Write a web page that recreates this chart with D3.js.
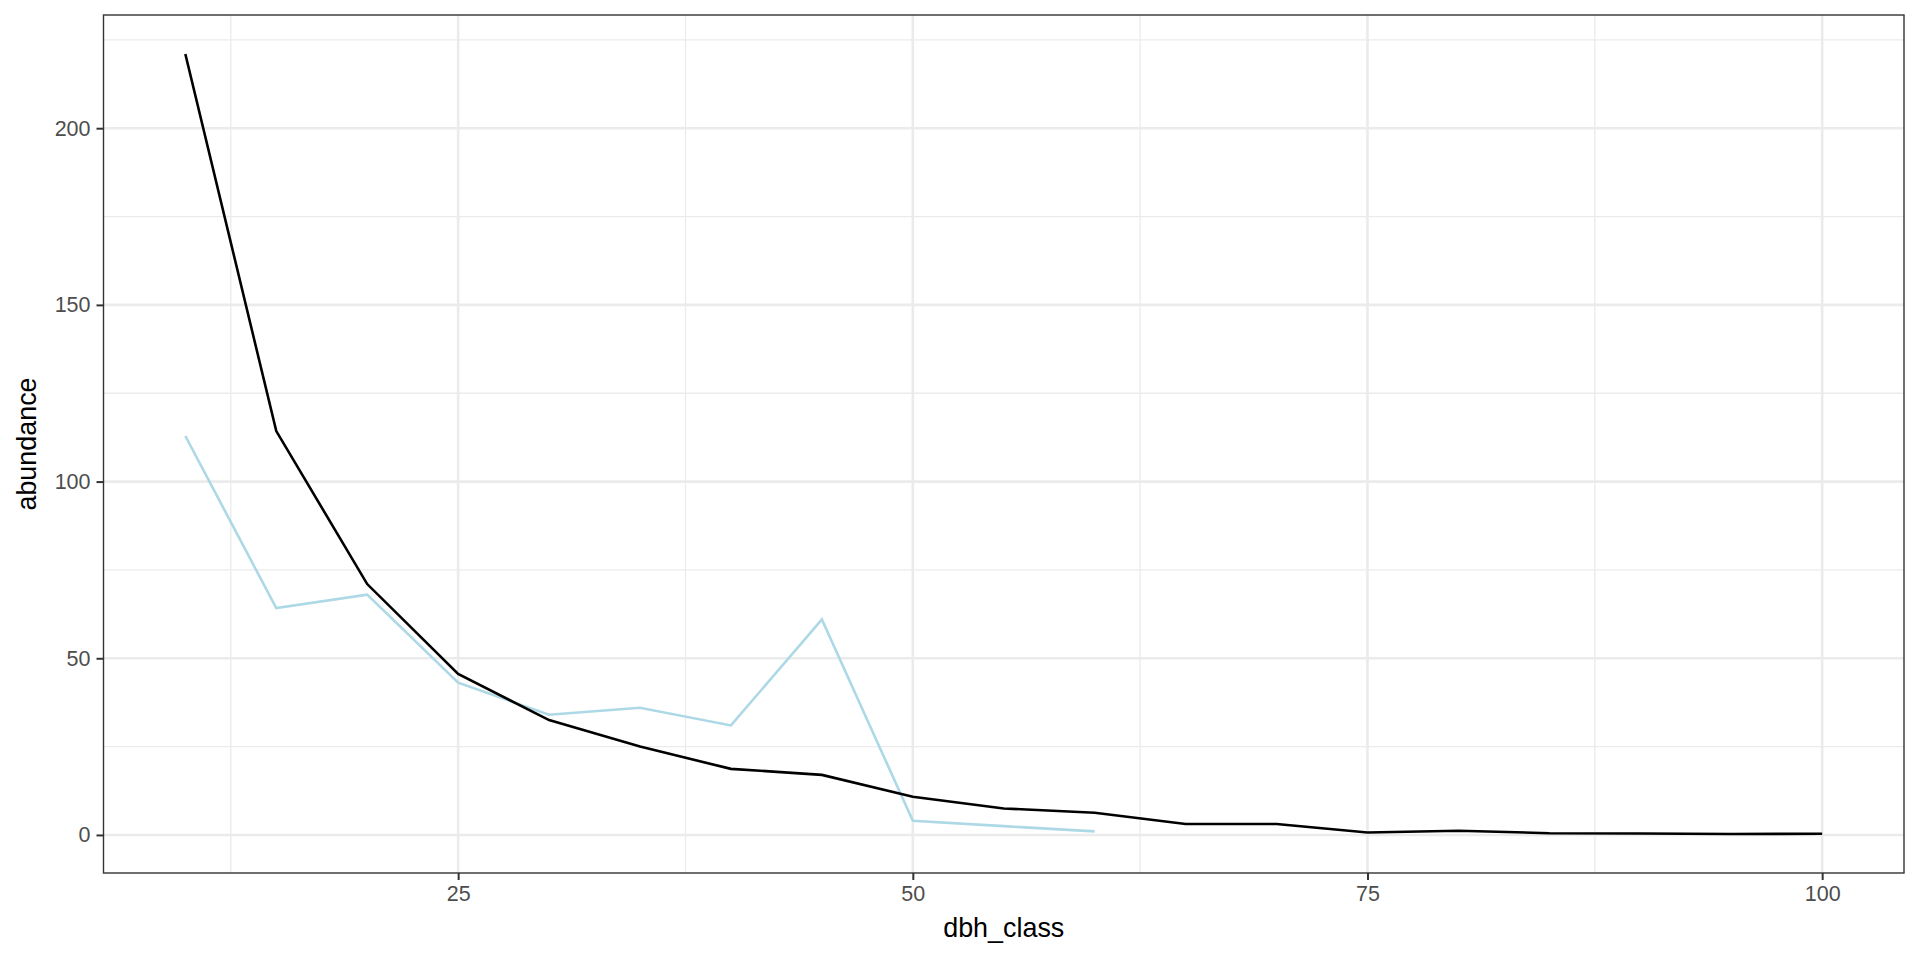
<!DOCTYPE html>
<html>
<head>
<meta charset="utf-8">
<script src="https://cdn.jsdelivr.net/npm/d3@7"></script>
<style>
  body { margin: 0; background: white; }
  svg text { font-family: "Liberation Sans", Arial, sans-serif; }
</style>
</head>
<body>
<svg id="chart" width="1920" height="960"></svg>
<script>
// dbh classes (cm) and abundance per class
let dbh_all = [10, 15, 20, 25, 30, 35, 40, 45, 50, 55, 60, 65, 70, 75, 80, 85, 90, 95, 100];
let abundance_all = [221, 114.3, 71, 45.6, 32.5, 25, 18.7, 17, 10.8, 7.5, 6.3, 3.1, 3.1, 0.7, 1.2, 0.5, 0.4, 0.27, 0.36];

let dbh_sub = [10, 15, 20, 25, 30, 35, 40, 45, 50, 55, 60];
let abundance_sub = [112.9, 64.2, 68, 43.1, 34, 36, 31, 61, 4, 2.5, 1];

let x_ticks = [25, 50, 75, 100];
let x_minor = [12.5, 37.5, 62.5, 87.5];
let y_ticks = [0, 50, 100, 150, 200];
let y_minor = [25, 75, 125, 175, 225];

const svg = d3.select("svg#chart");
const p_left = 103.5, p_right = 1904, p_top = 15, p_bottom = 873;

// ggplot style 5% expansion
let xmin = d3.min(dbh_all), xmax = d3.max(dbh_all);
let xpad = (xmax - xmin) * 0.05;
let ymin = d3.min(abundance_all), ymax = d3.max(abundance_all);
let ypad = (ymax - ymin) * 0.05;

const x = d3.scaleLinear().domain([xmin - xpad, xmax + xpad]).range([p_left, p_right]);
const y = d3.scaleLinear().domain([ymin - ypad, ymax + ypad]).range([p_bottom, p_top]);

// minor grid
svg.append("g").selectAll("line").data(x_minor).join("line")
  .attr("x1", d => x(d)).attr("x2", d => x(d))
  .attr("y1", p_top).attr("y2", p_bottom)
  .attr("stroke", "#EBEBEB").attr("stroke-width", 1.3);
svg.append("g").selectAll("line").data(y_minor).join("line")
  .attr("x1", p_left).attr("x2", p_right)
  .attr("y1", d => y(d)).attr("y2", d => y(d))
  .attr("stroke", "#EBEBEB").attr("stroke-width", 1.3);

// major grid
svg.append("g").selectAll("line").data(x_ticks).join("line")
  .attr("x1", d => x(d)).attr("x2", d => x(d))
  .attr("y1", p_top).attr("y2", p_bottom)
  .attr("stroke", "#EBEBEB").attr("stroke-width", 2.6);
svg.append("g").selectAll("line").data(y_ticks).join("line")
  .attr("x1", p_left).attr("x2", p_right)
  .attr("y1", d => y(d)).attr("y2", d => y(d))
  .attr("stroke", "#EBEBEB").attr("stroke-width", 2.6);

// lines
const line = d3.line().x(d => x(d[0])).y(d => y(d[1]));

svg.append("path")
  .datum(d3.zip(dbh_sub, abundance_sub))
  .attr("d", line)
  .attr("fill", "none")
  .attr("stroke", "#ADD8E6")
  .attr("stroke-width", 2.6);

svg.append("path")
  .datum(d3.zip(dbh_all, abundance_all))
  .attr("d", line)
  .attr("fill", "none")
  .attr("stroke", "black")
  .attr("stroke-width", 2.6);

// panel border
svg.append("rect")
  .attr("x", p_left).attr("y", p_top)
  .attr("width", p_right - p_left).attr("height", p_bottom - p_top)
  .attr("fill", "none")
  .attr("stroke", "#333333")
  .attr("stroke-width", 1.4);

// axes
const xAxis = svg.append("g")
  .attr("transform", "translate(0," + p_bottom + ")")
  .call(d3.axisBottom(x).tickValues(x_ticks).tickSize(7).tickPadding(6));
const yAxis = svg.append("g")
  .attr("transform", "translate(" + p_left + ",0)")
  .call(d3.axisLeft(y).tickValues(y_ticks).tickSize(7).tickPadding(6));

for (let ax of [xAxis, yAxis]) {
  ax.select(".domain").remove();
  ax.selectAll(".tick line").attr("stroke", "#333333").attr("stroke-width", 2);
  ax.selectAll(".tick text")
    .attr("fill", "#4D4D4D")
    .style("font-size", "21.5px")
    .style("font-family", "'Liberation Sans', Arial, sans-serif");
}

// axis titles
svg.append("text")
  .attr("x", (p_left + p_right) / 2)
  .attr("y", 937)
  .attr("text-anchor", "middle")
  .style("font-size", "26.9px")
  .attr("fill", "black")
  .text("dbh_class");

svg.append("text")
  .attr("transform", "translate(36," + (p_top + p_bottom) / 2 + ") rotate(-90)")
  .attr("text-anchor", "middle")
  .style("font-size", "26.9px")
  .attr("fill", "black")
  .text("abundance");
</script>
</body>
</html>
